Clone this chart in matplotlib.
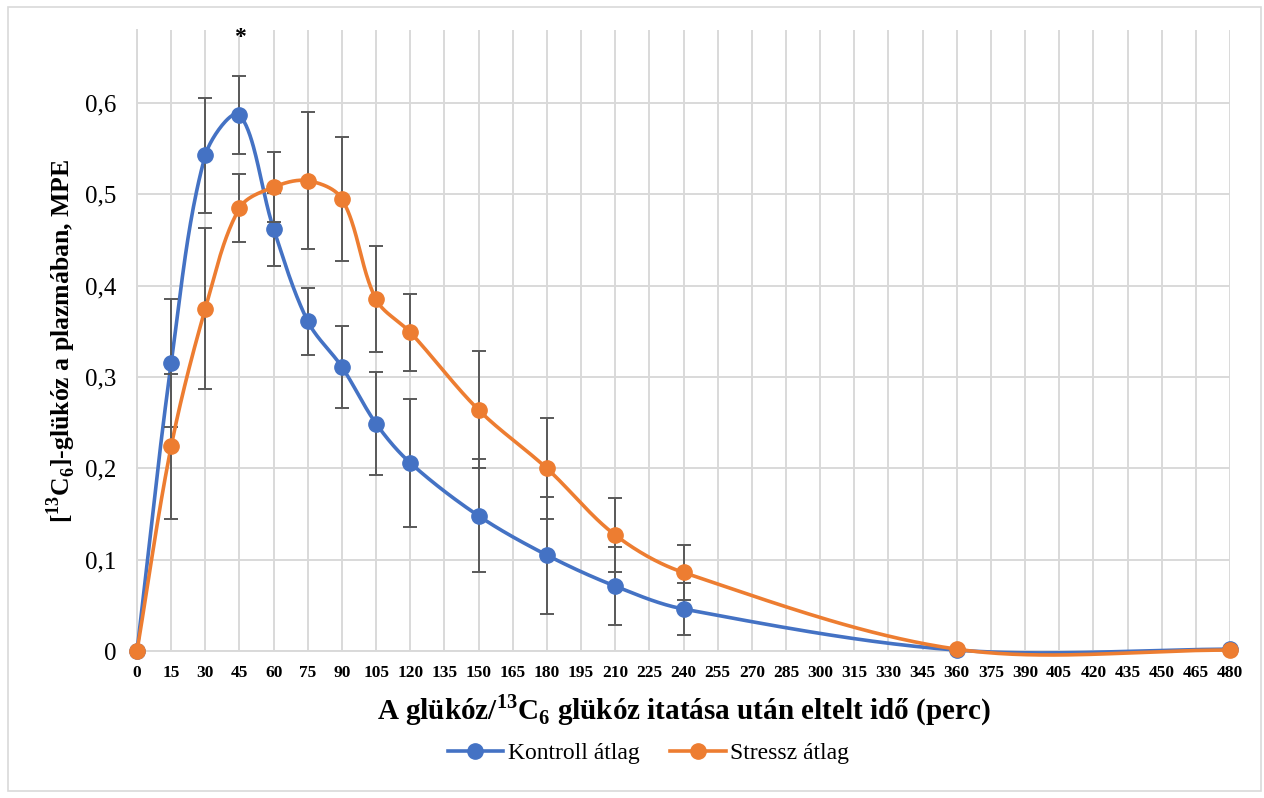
import numpy as np
import matplotlib
matplotlib.use("Agg")
import matplotlib.pyplot as plt
from matplotlib.lines import Line2D
from matplotlib.patches import Rectangle
from matplotlib.ticker import FuncFormatter

plt.rcParams['font.family'] = ['Liberation Serif', 'DejaVu Serif']
plt.rcParams['mathtext.fontset'] = 'custom'
plt.rcParams['mathtext.rm'] = 'Liberation Serif'
plt.rcParams['mathtext.bf'] = 'Liberation Serif:bold'

times = [0, 15, 30, 45, 60, 75, 90, 105, 120, 150, 180, 210, 240, 360, 480]
kontroll = [0, 0.315, 0.543, 0.587, 0.462, 0.361, 0.311, 0.249, 0.206, 0.148, 0.105, 0.071, 0.046, 0.001, 0.002]
kontroll_err = [0, 0.070, 0.063, 0.043, 0.040, 0.037, 0.045, 0.056, 0.070, 0.062, 0.064, 0.043, 0.029, 0, 0]
stressz = [0, 0.224, 0.375, 0.485, 0.508, 0.515, 0.495, 0.385, 0.349, 0.264, 0.200, 0.127, 0.086, 0.002, 0.001]
stressz_err = [0, 0.079, 0.088, 0.037, 0.038, 0.075, 0.068, 0.058, 0.042, 0.064, 0.055, 0.041, 0.030, 0, 0]
x_ticks = list(range(0, 481, 15))

BLUE = '#4472C4'
ORANGE = '#ED7D31'
GRID = '#D9D9D9'


def smooth(ax, x, y, n=40):
    # Excel-like smoothed line: cubic Bezier, tangents scaled by chord length (in pixels)
    p = ax.transData.transform(np.column_stack([x, y]).astype(float))
    out = []
    for i in range(len(p) - 1):
        p0 = p[i - 1] if i > 0 else p[i]
        p1, p2 = p[i], p[i + 1]
        p3 = p[i + 2] if i + 2 < len(p) else p[i + 1]
        d01 = np.hypot(*(p1 - p0))
        d12 = np.hypot(*(p2 - p1))
        d23 = np.hypot(*(p3 - p2))
        c1 = p1 + (p2 - p0) * d12 / (d01 + d12) / 3
        c2 = p2 - (p3 - p1) * d12 / (d12 + d23) / 3
        t = np.linspace(0, 1, n)[:, None]
        seg = ((1 - t) ** 3) * p1 + 3 * ((1 - t) ** 2) * t * c1 + 3 * (1 - t) * t ** 2 * c2 + t ** 3 * p2
        out.append(seg if i == 0 else seg[1:])
    out = ax.transData.inverted().transform(np.vstack(out))
    return out[:, 0], out[:, 1]


fig = plt.figure(figsize=(12.64, 7.98), dpi=100)
ax = fig.add_axes([0.1084, 0.1842, 0.8647, 0.7782])
fig.patches.append(Rectangle((0.006, 0.009), 0.992, 0.982, transform=fig.transFigure,
                             fill=False, edgecolor=GRID, lw=1.2))
ax.set_xlim(0, 480)
ax.set_ylim(0, 0.68)

for vals, errs, col, z in [(kontroll, kontroll_err, BLUE, 3), (stressz, stressz_err, ORANGE, 4)]:
    sx, sy = smooth(ax, times, vals)
    ax.plot(sx, sy, color=col, lw=2.6, zorder=z, solid_capstyle='round', clip_on=False)
    t = np.array(times)
    v = np.array(vals)
    e = np.array(errs)
    m = e > 0
    ax.errorbar(t[m], v[m], yerr=e[m], fmt='none', ecolor='#595959', elinewidth=1.4,
                capsize=4.7, capthick=1.4, zorder=z + 0.2)
    ax.plot(times, vals, 'o', color=col, markersize=11, zorder=z + 0.5, clip_on=False)

ax.text(45, 0.672, '*', ha='center', va='center', fontsize=17, fontweight='bold')

ax.set_xticks(x_ticks)
ax.set_yticks([0, 0.1, 0.2, 0.3, 0.4, 0.5, 0.6])
ax.yaxis.set_major_formatter(FuncFormatter(lambda v, p: '0' if v == 0 else f'{v:.1f}'.replace('.', ',')))
ax.grid(True, color=GRID, lw=1.4)
ax.set_axisbelow(True)
for s in ['top', 'right']:
    ax.spines[s].set_visible(False)
for s in ['left', 'bottom']:
    ax.spines[s].set_color(GRID)
    ax.spines[s].set_linewidth(1.4)
ax.tick_params(length=0)
ax.tick_params(axis='y', labelsize=18, pad=15)
ax.tick_params(axis='x', labelsize=12.5, pad=10)
for lab in ax.get_xticklabels():
    lab.set_fontweight('bold')

ax.set_xlabel(r'A glükóz/$^{\mathbf{13}}$C$_{\mathbf{6}}$ glükóz itatása után eltelt idő (perc)',
              fontsize=21, fontweight='bold', labelpad=8)
ax.set_ylabel(r'[$^{\mathbf{13}}$C$_{\mathbf{6}}$]-glükóz a plazmában, MPE',
              fontsize=18.5, fontweight='bold', labelpad=5)

handles = [Line2D([], [], color=BLUE, lw=2.6, marker='o', markersize=11),
           Line2D([], [], color=ORANGE, lw=2.6, marker='o', markersize=11)]
fig.legend(handles, ['Kontroll átlag', 'Stressz átlag'], loc='center', bbox_to_anchor=(0.513, 0.056),
           ncol=2, frameon=False, fontsize=17, handlelength=2.35, columnspacing=1.3, handletextpad=0.2)

fig.savefig('out.png', dpi=100)
